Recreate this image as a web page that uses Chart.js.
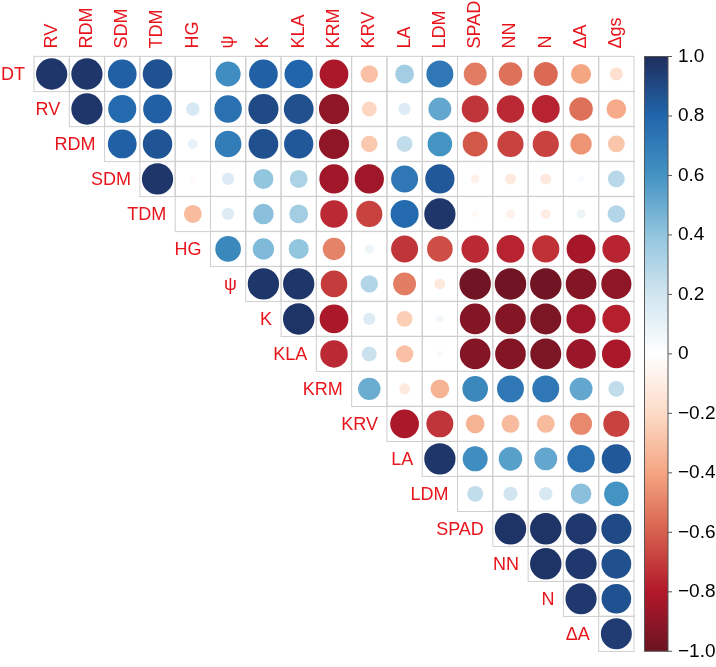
<!DOCTYPE html>
<html>
<head>
<meta charset="utf-8">
<script src="https://cdn.jsdelivr.net/npm/chart.js@4/dist/chart.umd.min.js"></script>
<style>
  html, body { margin: 0; padding: 0; background: #fff; }
  #wrap { position: relative; width: 716px; height: 667px; }
</style>
</head>
<body>
<div id="wrap"><canvas id="corr" width="716" height="667"></canvas></div>
<script>
// variable names (rows = vars[0..16], columns = vars[1..17])
const vars = ['DT', 'RV', 'RDM', 'SDM', 'TDM', 'HG', 'ψ', 'K', 'KLA', 'KRM', 'KRV', 'LA', 'LDM', 'SPAD', 'NN', 'N', 'ΔA', 'Δgs'];

// upper triangle, one array per row, starting at the column right after the row variable
const rowDT   = [0.97, 0.97, 0.82, 0.87, 0.0, 0.62, 0.82, 0.80, -0.82, -0.30, 0.35, 0.72, -0.52, -0.55, -0.57, -0.40, -0.17];
const rowRV   = [0.97, 0.78, 0.82, 0.18, 0.75, 0.90, 0.88, -0.90, -0.22, 0.15, 0.52, -0.72, -0.75, -0.77, -0.55, -0.38];
const rowRDM  = [0.82, 0.86, 0.10, 0.70, 0.88, 0.85, -0.90, -0.27, 0.25, 0.60, -0.62, -0.68, -0.68, -0.45, -0.28];
const rowSDM  = [0.97, -0.03, 0.15, 0.40, 0.32, -0.85, -0.85, 0.72, 0.85, -0.08, -0.12, -0.12, 0.04, 0.28];
const rowTDM  = [-0.32, 0.15, 0.42, 0.35, -0.75, -0.68, 0.78, 0.97, -0.04, -0.08, -0.10, 0.08, 0.30];
const rowHG   = [0.65, 0.45, 0.40, -0.50, 0.08, -0.72, -0.65, -0.75, -0.77, -0.73, -0.83, -0.77];
const rowPsi  = [0.97, 0.97, -0.70, 0.30, -0.52, -0.12, -0.98, -0.98, -0.98, -0.93, -0.90];
const rowK    = [0.98, -0.82, 0.15, -0.25, 0.06, -0.93, -0.93, -0.95, -0.85, -0.78];
const rowKLA  = [-0.75, 0.22, -0.30, 0.04, -0.93, -0.93, -0.95, -0.87, -0.82];
const rowKRM  = [0.50, -0.12, -0.35, 0.65, 0.72, 0.72, 0.52, 0.25];
const rowKRV  = [-0.82, -0.72, -0.35, -0.32, -0.32, -0.48, -0.68];
const rowLA   = [0.97, 0.62, 0.55, 0.52, 0.75, 0.85];
const rowLDM  = [0.25, 0.20, 0.18, 0.42, 0.60];
const rowSPAD = [0.98, 0.98, 0.96, 0.90];
const rowNN   = [0.98, 0.96, 0.88];
const rowN    = [0.96, 0.87];
const rowDA   = [0.95];

const rows = [rowDT, rowRV, rowRDM, rowSDM, rowTDM, rowHG, rowPsi, rowK, rowKLA,
  rowKRM, rowKRV, rowLA, rowLDM, rowSPAD, rowNN, rowN, rowDA];

// colour legend ticks
const cbTicks = [1.0, 0.8, 0.6, 0.4, 0.2, 0, -0.2, -0.4, -0.6, -0.8, -1.0];
const cbLabels = ['1.0', '0.8', '0.6', '0.4', '0.2', '0', '\u22120.2', '\u22120.4', '\u22120.6', '\u22120.8', '\u22121.0'];

// RdBu ramp (-1 -> +1), ends a bit muted like the picture
const ramp = ['#6a1422', '#B2182B', '#D6604D', '#F4A582', '#FDDBC7', '#FFFFFF',
  '#D1E5F0', '#92C5DE', '#4393C3', '#2166AC', '#1f2e5e'];

const N_COL = rows.length; // 17
const LABEL_COL = '#e8141c';
const FONT = '"Liberation Sans", Arial, Helvetica, sans-serif';

function hex2rgb(h) {
  return [parseInt(h.slice(1, 3), 16), parseInt(h.slice(3, 5), 16), parseInt(h.slice(5, 7), 16)];
}
function corrColor(v) {
  const t = Math.max(0, Math.min(1, (v + 1) / 2)) * (ramp.length - 1);
  const i = Math.min(Math.floor(t), ramp.length - 2);
  const f = t - i;
  const a = hex2rgb(ramp[i]);
  const b = hex2rgb(ramp[i + 1]);
  const c = a.map((x, k) => Math.round(x + (b[k] - x) * f));
  return 'rgb(' + c.join(',') + ')';
}

// bubble points: x = column index, y = row index
const points = [];
rows.forEach((vals, r) => {
  vals.forEach((v, k) => {
    points.push({ x: r + k, y: r, v });
  });
});

function cellSize(chart) {
  const ca = chart.chartArea;
  return ca ? (ca.right - ca.left) / N_COL : 35.3;
}

// grid, labels and colour legend
const decorPlugin = {
  id: 'decor',
  beforeDatasetsDraw(chart) {
    const ctx = chart.ctx;
    const xs = chart.scales.x;
    const ys = chart.scales.y;
    const cell = cellSize(chart);
    ctx.save();
    ctx.strokeStyle = '#cfcfcf';
    ctx.lineWidth = 1;
    for (let r = 0; r < N_COL; r++) {
      for (let c = r; c < N_COL; c++) {
        const cx = xs.getPixelForValue(c);
        const cy = ys.getPixelForValue(r);
        ctx.strokeRect(cx - cell / 2, cy - cell / 2, cell, cell);
      }
    }
    ctx.restore();
  },
  afterDraw(chart) {
    const ctx = chart.ctx;
    const xs = chart.scales.x;
    const ys = chart.scales.y;
    const cb = chart.scales.cb;
    const ca = chart.chartArea;
    const cell = cellSize(chart);
    ctx.save();
    ctx.fillStyle = LABEL_COL;
    ctx.font = '18px ' + FONT;

    // column labels (rotated)
    for (let c = 0; c < N_COL; c++) {
      const cx = xs.getPixelForValue(c);
      ctx.save();
      ctx.translate(cx, ca.top - 8);
      ctx.rotate(-Math.PI / 2);
      ctx.textAlign = 'left';
      ctx.textBaseline = 'middle';
      ctx.fillText(vars[c + 1], 0, 0);
      ctx.restore();
    }

    // row labels (diagonal)
    ctx.textAlign = 'right';
    ctx.textBaseline = 'middle';
    for (let r = 0; r < N_COL; r++) {
      const x0 = xs.getPixelForValue(r) - cell / 2 - 9;
      ctx.fillText(vars[r], x0, ys.getPixelForValue(r) + 1);
    }

    // colour legend
    const bx0 = 644.5, bx1 = 668;
    const top = cb.getPixelForValue(1), bot = cb.getPixelForValue(-1);
    const grad = ctx.createLinearGradient(0, bot, 0, top);
    ramp.forEach((col, i) => grad.addColorStop(i / (ramp.length - 1), col));
    ctx.fillStyle = grad;
    ctx.fillRect(bx0, top, bx1 - bx0, bot - top);
    ctx.strokeStyle = '#555';
    ctx.lineWidth = 1;
    ctx.strokeRect(bx0, top, bx1 - bx0, bot - top);
    ctx.fillStyle = '#000';
    ctx.font = '19px ' + FONT;
    ctx.textAlign = 'left';
    ctx.textBaseline = 'middle';
    cbTicks.forEach((t, i) => {
      const y = cb.getPixelForValue(t);
      ctx.beginPath();
      ctx.moveTo(bx1, y);
      ctx.lineTo(bx1 + 4, y);
      ctx.stroke();
      ctx.fillText(cbLabels[i], 678, y);
    });
    ctx.restore();
  },
};

new Chart(document.getElementById('corr'), {
  type: 'bubble',
  data: {
    datasets: [{
      data: points,
      backgroundColor: (c) => corrColor(c.raw ? c.raw.v : 0),
      borderWidth: 0,
      radius: (c) => 0.45 * cellSize(c.chart) * Math.sqrt(Math.abs(c.raw ? c.raw.v : 0)),
      hoverRadius: 0,
    }],
  },
  options: {
    responsive: false,
    animation: false,
    layout: { padding: { left: 34, right: 82, top: 56.5, bottom: 10.5 } },
    plugins: { legend: { display: false }, tooltip: { enabled: false } },
    scales: {
      x: { type: 'linear', min: -0.5, max: N_COL - 0.5, display: false },
      y: { type: 'linear', min: -0.5, max: N_COL - 0.5, reverse: true, display: false },
      cb: { type: 'linear', axis: 'y', min: -1, max: 1, display: false },
    },
  },
  plugins: [decorPlugin],
});
</script>
</body>
</html>
